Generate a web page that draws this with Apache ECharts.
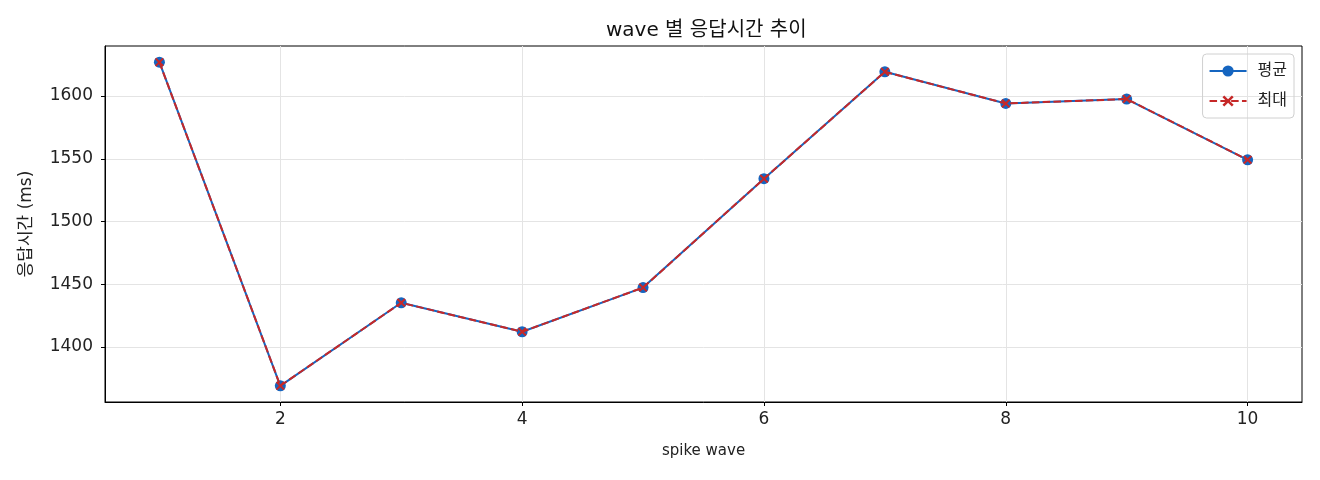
<!DOCTYPE html>
<html><head><meta charset="utf-8">
<script src="https://cdn.jsdelivr.net/npm/echarts@6/dist/echarts.min.js"></script>
<style>html,body{margin:0;padding:0;background:#fff}#c{width:1320px;height:480px}</style>
</head><body><div id="c"></div>
<script>
const waves = [1,2,3,4,5,6,7,8,9,10];
const avgMs = [1627,1369,1435.2,1412.1,1447.3,1534.1,1619.3,1594.1,1597.6,1549.2];
const maxMs = [1627,1369,1435.2,1412.1,1447.3,1534.1,1619.3,1594.1,1597.6,1549.2];
const xTicks = [2,4,6,8,10];
const yTicks = [1400,1450,1500,1550,1600];

const FONT = '"DejaVu Sans","Noto Sans CJK KR",sans-serif';
const BLUE = '#1565C0', RED = '#C62828';
const X_SYMBOL = 'path://M0,1.6L1.6,0L5,3.4L8.4,0L10,1.6L6.6,5L10,8.4L8.4,10L5,6.6L1.6,10L0,8.4L3.4,5Z';
const chart = echarts.init(document.getElementById('c'));
const axisCommon = {
  axisLine:{show:true,onZero:false,lineStyle:{color:'#000',width:1}},
  splitLine:{show:true,lineStyle:{color:'#e4e4e4',width:1}},
  nameTextStyle:{color:'#222',fontSize:15,fontFamily:FONT}
};
chart.setOption({
  backgroundColor:'#fff',
  animation:false,
  title:{text:'wave 별 응답시간 추이',left:601,top:16,textStyle:{fontSize:20,fontWeight:'normal',color:'#111',fontFamily:FONT}},
  legend:{
    right:26,top:54,orient:'vertical',itemGap:14,itemWidth:37,itemHeight:14,
    borderColor:'#d0d0d0',borderWidth:1,borderRadius:4,padding:[9,7,9,6],
    textStyle:{fontSize:16,color:'#222',fontFamily:FONT,padding:[0,0,0,6]},
    data:['평균','최대']
  },
  grid:{left:105,right:18,top:46,bottom:78,containLabel:false,show:true,borderColor:'#000',borderWidth:1},
  xAxis:Object.assign({},axisCommon,{
    type:'value',min:0.55,max:10.45,
    name:'spike wave',nameLocation:'middle',nameGap:42,
    axisTick:{show:true,length:4,customValues:xTicks,lineStyle:{color:'#000'}},
    axisLabel:{customValues:xTicks,margin:9,color:'#222',fontSize:17,fontFamily:FONT,formatter:v=>String(v)}
  }),
  yAxis:Object.assign({},axisCommon,{
    type:'value',min:1356.1,max:1639.9,
    name:'응답시간 (ms)',nameLocation:'middle',nameGap:70,
    nameTextStyle:{color:'#222',fontSize:17,fontFamily:FONT},
    axisTick:{show:true,length:4,customValues:yTicks,lineStyle:{color:'#000'}},
    axisLabel:{customValues:yTicks,margin:12,color:'#222',fontSize:17,fontFamily:FONT,formatter:v=>String(v)}
  }),
  series:[
    {name:'평균',type:'line',data:waves.map((w,i)=>[w,avgMs[i]]),
     symbol:'circle',symbolSize:11,
     lineStyle:{color:BLUE,width:2},itemStyle:{color:BLUE,borderWidth:0},z:2},
    {name:'최대',type:'line',data:waves.map((w,i)=>[w,maxMs[i]]),
     symbol:X_SYMBOL,symbolSize:9,
     lineStyle:{color:RED,width:2,type:[7.5,3.3]},
     itemStyle:{color:RED,borderWidth:0},z:3}
  ]
});
</script></body></html>
